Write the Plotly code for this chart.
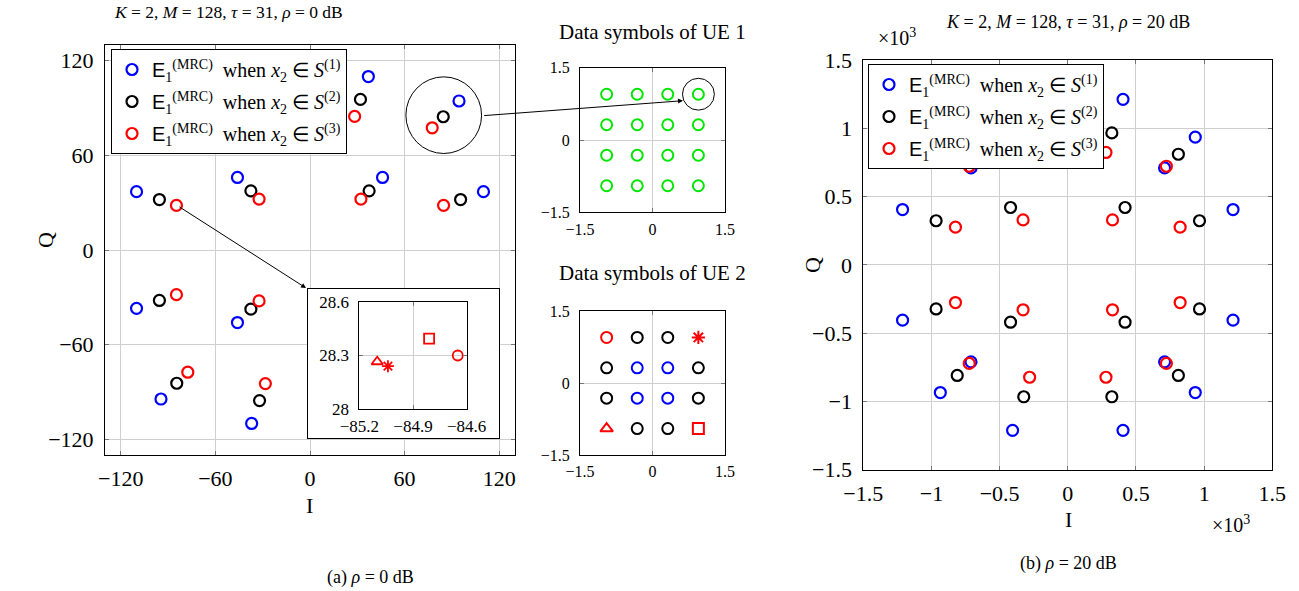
import plotly.graph_objects as go

W, H = 1299, 591
SERIF = "Liberation Serif"
BLUE, BLACK, RED, GREEN = "#0000ff", "#000000", "#ff0000", "#00e600"

# ---------------- data: rho = 0 dB (left panel) ----------------
L_BLUE_X = [37, 94.5, 46, 110, -37, -94.5, -46, -110, -37, -94.5, -46, -110, 37, 94.5, 46, 110]
L_BLUE_Y = [110, 94.5, 46, 37, 110, 94.5, 46, 37, -110, -94.5, -46, -37, -110, -94.5, -46, -37]
L_BLACK_X = [32, 84.5, 37.5, 95.5, -32, -84.5, -37.5, -95.5, -32, -84.5, -37.5, -95.5, 32, 84.5, 37.5, 95.5]
L_BLACK_Y = [95.5, 84.5, 37.5, 32, 95.5, 84.5, 37.5, 32, -95.5, -84.5, -37.5, -32, -95.5, -84.5, -37.5, -32]
L_RED_X = [28.3, 77.5, 32.3, 84.7, -28.3, -77.5, -32.3, -84.7, -28.3, -77.5, -32.3, -84.7, 28.3, 77.5, 32.3, 84.7]
L_RED_Y = [84.7, 77.5, 32.3, 28.3, 84.7, 77.5, 32.3, 28.3, -84.7, -77.5, -32.3, -28.3, -84.7, -77.5, -32.3, -28.3]

# zoomed inset (four corner symbols of UE 2)
INSET_X = [-85.10, -85.04, -84.81, -84.65]
INSET_Y = [28.265, 28.24, 28.395, 28.30]
INSET_SYMBOLS = ["triangle-up-open", "asterisk-open", "square-open", "circle-open"]

# ---------------- data: rho = 20 dB (right panel, x10^3) ----------------
R_BLUE_X = [0.405, 0.935, 0.71, 1.212, -0.405, -0.935, -0.71, -1.212, -0.405, -0.935, -0.71, -1.212, 0.405, 0.935, 0.71, 1.212]
R_BLUE_Y = [1.212, 0.935, 0.71, 0.405, 1.212, 0.935, 0.71, 0.405, -1.212, -0.935, -0.71, -0.405, -1.212, -0.935, -0.71, -0.405]
R_BLACK_X = [0.323, 0.811, 0.42, 0.966, -0.323, -0.811, -0.42, -0.966, -0.323, -0.811, -0.42, -0.966, 0.323, 0.811, 0.42, 0.966]
R_BLACK_Y = [0.966, 0.81, 0.42, 0.323, 0.966, 0.81, 0.42, 0.323, -0.966, -0.81, -0.42, -0.323, -0.966, -0.81, -0.42, -0.323]
R_RED_X = [0.28, 0.723, 0.328, 0.824, -0.28, -0.723, -0.328, -0.824, -0.28, -0.723, -0.328, -0.824, 0.28, 0.723, 0.328, 0.824]
R_RED_Y = [0.823, 0.722, 0.329, 0.276, 0.823, 0.722, 0.329, 0.276, -0.823, -0.722, -0.329, -0.276, -0.823, -0.722, -0.329, -0.276]

# ---------------- data symbols of UE 1 (16-QAM) ----------------
UE1_X = [-0.949, -0.316, 0.316, 0.949, -0.949, -0.316, 0.316, 0.949,
         -0.949, -0.316, 0.316, 0.949, -0.949, -0.316, 0.316, 0.949]
UE1_Y = [0.949, 0.949, 0.949, 0.949, 0.316, 0.316, 0.316, 0.316,
         -0.316, -0.316, -0.316, -0.316, -0.949, -0.949, -0.949, -0.949]

# ---------------- data symbols of UE 2 (partitioned) ----------------
UE2_S1_X = [-0.316, 0.316, -0.316, 0.316]
UE2_S1_Y = [0.316, 0.316, -0.316, -0.316]
UE2_S2_X = [-0.316, 0.316, -0.949, 0.949, -0.949, 0.949, -0.316, 0.316]
UE2_S2_Y = [0.949, 0.949, 0.316, 0.316, -0.316, -0.316, -0.949, -0.949]
UE2_S3_X = [-0.949, 0.949, -0.949, 0.949]
UE2_S3_Y = [0.949, 0.949, -0.949, -0.949]
UE2_S3_SYMBOLS = ["circle-open", "asterisk-open", "triangle-up-open", "square-open"]

LEFT_TICKS = [-120, -60, 0, 60, 120]
RIGHT_TICKS = [-1.5, -1, -0.5, 0, 0.5, 1, 1.5]
RIGHT_TICKTEXT = ["−1.5", "−1", "−0.5", "0", "0.5", "1", "1.5"]
UE_TICKS = [-1.5, 0, 1.5]
INSET_XTICKS = [-85.2, -84.9, -84.6]
INSET_YTICKS = [28, 28.3, 28.6]

LEGEND_NAMES = [
    '<span style="font-family:Liberation Sans">E</span><sub>1</sub><sup>(MRC)</sup>  when <i>x</i><sub>2</sub> ∈ <i>S</i><sup>(%d)</sup>' % k
    for k in (1, 2, 3)
]


def xd(a, b):
    return [a / W, b / W]


def yd(top, bottom):
    return [1 - bottom / H, 1 - top / H]


def axis(domain, rng, anchor, tickvals=None, ticktext=None, size=20, grid=True, ticks="inside",
         showlabels=True, standoff=4):
    d = dict(domain=domain, range=rng, anchor=anchor, showline=True, linecolor="black", linewidth=1,
             mirror="ticks" if ticks else True, ticks=ticks, ticklen=4, tickcolor="#777777",
             showgrid=grid, gridcolor="#cfcfcf", gridwidth=1, zeroline=False,
             tickfont=dict(family=SERIF, size=size, color="black"), showticklabels=showlabels,
             fixedrange=True, automargin=False, ticklabelstandoff=standoff)
    if tickvals is not None:
        d["tickvals"] = tickvals
        d["tickmode"] = "array"
    if ticktext is not None:
        d["ticktext"] = ticktext
    return d


fig = go.Figure()

MK = dict(size=11, line=dict(width=2.2))

# left panel
for xs, ys, c, name, g in [(L_BLUE_X, L_BLUE_Y, BLUE, LEGEND_NAMES[0], "a"),
                           (L_BLACK_X, L_BLACK_Y, BLACK, LEGEND_NAMES[1], "b"),
                           (L_RED_X, L_RED_Y, RED, LEGEND_NAMES[2], "c")]:
    fig.add_trace(go.Scatter(x=xs, y=ys, mode="markers", name=name, legend="legend", legendgroup=g,
                             marker=dict(symbol="circle-open", color=c, **MK), xaxis="x", yaxis="y",
                             hoverinfo="skip"))

# inset frame (empty subplot)
fig.add_trace(go.Scatter(x=[None], y=[None], xaxis="x2", yaxis="y2", showlegend=False, hoverinfo="skip"))

# inset
for xv, yv, s in zip(INSET_X, INSET_Y, INSET_SYMBOLS):
    fig.add_trace(go.Scatter(x=[xv], y=[yv], mode="markers", showlegend=False, xaxis="x3", yaxis="y3",
                             marker=dict(symbol=s, color=RED, size=10, line=dict(width=1.8)), hoverinfo="skip"))

# UE1
fig.add_trace(go.Scatter(x=UE1_X, y=UE1_Y, mode="markers", showlegend=False, xaxis="x4", yaxis="y4",
                         marker=dict(symbol="circle-open", color=GREEN, size=11, line=dict(width=2)), hoverinfo="skip"))

# UE2
fig.add_trace(go.Scatter(x=UE2_S1_X, y=UE2_S1_Y, mode="markers", showlegend=False, xaxis="x5", yaxis="y5",
                         marker=dict(symbol="circle-open", color=BLUE, size=11, line=dict(width=2)), hoverinfo="skip"))
fig.add_trace(go.Scatter(x=UE2_S2_X, y=UE2_S2_Y, mode="markers", showlegend=False, xaxis="x5", yaxis="y5",
                         marker=dict(symbol="circle-open", color=BLACK, size=11, line=dict(width=2)), hoverinfo="skip"))
for xv, yv, s in zip(UE2_S3_X, UE2_S3_Y, UE2_S3_SYMBOLS):
    fig.add_trace(go.Scatter(x=[xv], y=[yv], mode="markers", showlegend=False, xaxis="x5", yaxis="y5",
                             marker=dict(symbol=s, color=RED, size=11, line=dict(width=2)), hoverinfo="skip"))

# right panel
for xs, ys, c, name, g in [(R_BLUE_X, R_BLUE_Y, BLUE, LEGEND_NAMES[0], "d"),
                           (R_BLACK_X, R_BLACK_Y, BLACK, LEGEND_NAMES[1], "e"),
                           (R_RED_X, R_RED_Y, RED, LEGEND_NAMES[2], "f")]:
    fig.add_trace(go.Scatter(x=xs, y=ys, mode="markers", name=name, legend="legend2", legendgroup=g,
                             marker=dict(symbol="circle-open", color=c, **MK), xaxis="x6", yaxis="y6",
                             hoverinfo="skip"))

layout = dict(
    width=W, height=H, margin=dict(l=0, r=0, t=0, b=0, autoexpand=False),
    paper_bgcolor="white", plot_bgcolor="white",
    xaxis=axis(xd(105, 515), [-130, 130], "y", LEFT_TICKS, size=22),
    yaxis=axis(yd(45, 455), [-130, 130], "x", LEFT_TICKS, size=22, standoff=6),
    xaxis2=axis(xd(308, 499), [0, 1], "y2", grid=False, ticks="", showlabels=False),
    yaxis2=axis(yd(289, 438), [0, 1], "x2", grid=False, ticks="", showlabels=False),
    xaxis3=axis(xd(359.3, 466.7), [-85.2, -84.6], "y3", INSET_XTICKS, size=17, standoff=2),
    yaxis3=axis(yd(302, 409), [28, 28.6], "x3", INSET_YTICKS, size=17, standoff=6),
    xaxis4=axis(xd(580, 725), [-1.5, 1.5], "y4", UE_TICKS, size=16, standoff=2),
    yaxis4=axis(yd(67.7, 212.3), [-1.5, 1.5], "x4", UE_TICKS, size=16, standoff=6),
    xaxis5=axis(xd(580, 725), [-1.5, 1.5], "y5", UE_TICKS, size=16, standoff=2),
    yaxis5=axis(yd(311, 455), [-1.5, 1.5], "x5", UE_TICKS, size=16, standoff=6),
    xaxis6=axis(xd(863.3, 1272.3), [-1.5, 1.5], "y6", RIGHT_TICKS, RIGHT_TICKTEXT, size=22),
    yaxis6=axis(yd(60, 469.7), [-1.5, 1.5], "x6", RIGHT_TICKS, RIGHT_TICKTEXT, size=22, standoff=6),
    legend=dict(x=111 / W, y=1 - 49 / H, xanchor="left", yanchor="top", bgcolor="white",
                bordercolor="black", borderwidth=1, font=dict(family=SERIF, size=20, color="black"),
                tracegroupgap=3, itemwidth=30),
    legend2=dict(x=868 / W, y=1 - 64 / H, xanchor="left", yanchor="top", bgcolor="white",
                 bordercolor="black", borderwidth=1, font=dict(family=SERIF, size=20, color="black"),
                 tracegroupgap=3, itemwidth=30),
    showlegend=True,
)
fig.update_layout(**layout)

# zoom circles
fig.add_shape(type="circle", xref="x", yref="y", x0=60.8, x1=108.8, y0=61.2, y1=109.8,
              line=dict(color="black", width=1))
fig.add_shape(type="circle", xref="x4", yref="y4", x0=0.62, x1=1.28, y0=0.62, y1=1.28,
              line=dict(color="black", width=1))


def ann(px, py, text, size, angle=0, xanchor="center"):
    fig.add_annotation(x=px / W, y=1 - py / H, xref="paper", yref="paper", text=text, showarrow=False,
                       font=dict(family=SERIF, size=size, color="black"), textangle=angle,
                       xanchor=xanchor, yanchor="middle")


# arrows
fig.add_annotation(x=306 / W, y=1 - 288 / H, xref="paper", yref="paper", text="", showarrow=True,
                   ax=-128, ay=-82, arrowhead=2, arrowsize=1, arrowwidth=1, arrowcolor="black")
fig.add_annotation(x=683 / W, y=1 - 100.7 / H, xref="paper", yref="paper", text="", showarrow=True,
                   ax=-200.3, ay=15, arrowhead=2, arrowsize=1, arrowwidth=1, arrowcolor="black")

ann(228, 12, "<i>K</i> = 2, <i>M</i> = 128, <i>τ</i> = 31, <i>ρ</i> = 0 dB", 17.5)
ann(1068, 22, "<i>K</i> = 2, <i>M</i> = 128, <i>τ</i> = 31, <i>ρ</i> = 20 dB", 18)
ann(652, 32, "Data symbols of UE 1", 21)
ann(652, 273, "Data symbols of UE 2", 21)
ann(309, 505, "I", 22)
ann(45, 240, "Q", 22, angle=-90)
ann(1068, 519, "I", 22)
ann(812, 265, "Q", 22, angle=-90)
ann(897, 37, "×10<sup>3</sup>", 20)
ann(1231, 524, "×10<sup>3</sup>", 20)
ann(370, 577, "(a) <i>ρ</i> = 0 dB", 18)
ann(1068, 563, "(b) <i>ρ</i> = 20 dB", 18)

fig.write_html("out.html")
